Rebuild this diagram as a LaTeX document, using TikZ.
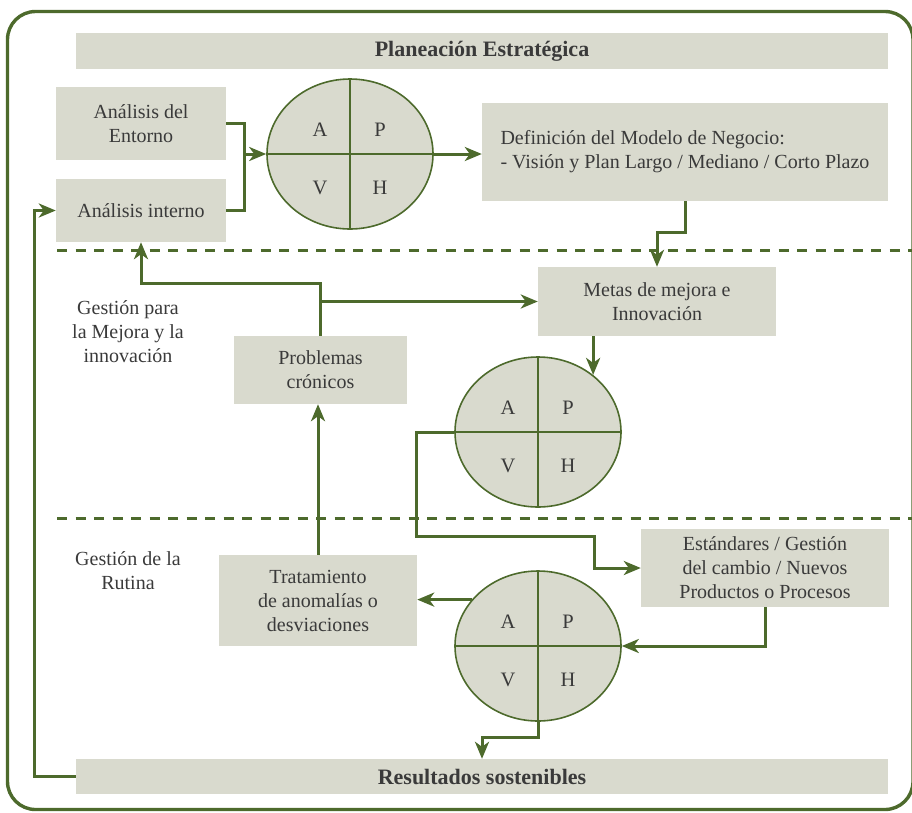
\documentclass[tikz,border=0pt]{standalone}
\usepackage{fontspec}
\setmainfont{Liberation Serif}
\usetikzlibrary{arrows.meta,shapes.geometric}
\definecolor{boxfill}{HTML}{D9DACE}
\definecolor{linegreen}{HTML}{4D6A2C}
\definecolor{txt}{HTML}{3A3A3A}

\begin{document}
\begin{tikzpicture}[x=1pt,y=-1pt,
  box/.style={fill=boxfill, text=txt, inner sep=0pt, align=center,
    font=\fontsize{20}{24}\selectfont},
  title/.style={box, font=\fontsize{22}{26}\selectfont\bfseries},
  cycle/.style={ellipse, draw=linegreen, line width=1.6pt, fill=boxfill,
    minimum width=166pt, minimum height=150pt, inner sep=0pt},
  quad/.style={draw=linegreen, line width=1.6pt},
  letter/.style={text=txt, inner sep=0pt, font=\fontsize{20.5}{24}\selectfont},
  flow/.style={draw=linegreen, line width=3pt},
  arr/.style={flow, -{Stealth[length=17pt,width=14pt,inset=5pt]}},
  sep/.style={draw=linegreen, line width=3pt, dash pattern=on 10pt off 8.5pt},
  lbl/.style={text=txt, align=center, inner sep=0pt,
    font=\fontsize{20}{24}\selectfont}
]
\useasboundingbox (0,0) rectangle (912,812);

% outer frame
\draw[linegreen, line width=3.4pt, rounded corners=28pt] (7.5,11.5) rectangle (913,809.5);

% band separators
\coordinate (s1a) at (57,250);  \coordinate (s1b) at (915,250);
\coordinate (s2a) at (57,518);  \coordinate (s2b) at (915,518);
\draw[sep] (s1a) -- (s1b);
\draw[sep] (s2a) -- (s2b);

% boxes
\node[title, minimum width=812pt, minimum height=36pt] (plan) at (482,51)
  {Planeación Estratégica};
\node[box, minimum width=170pt, minimum height=73pt] (entorno) at (141,123.5)
  {Análisis del\\Entorno};
\node[box, minimum width=170pt, minimum height=63pt] (interno) at (141,210.5)
  {Análisis interno};
\node[box, minimum width=406pt, minimum height=98pt, align=left] (def) at (685,152)
  {Definición del Modelo de Negocio:\\- Visión y Plan Largo / Mediano / Corto Plazo};
\node[box, minimum width=238pt, minimum height=69pt] (metas) at (657,301.5)
  {Metas de mejora e\\Innovación};
\node[box, minimum width=173pt, minimum height=68pt] (prob) at (320.5,370)
  {Problemas\\crónicos};
\node[box, minimum width=248pt, minimum height=78pt] (est) at (765,568)
  {Estándares / Gestión\\del cambio / Nuevos\\Productos o Procesos};
\node[box, minimum width=198pt, minimum height=91pt] (trat) at (318,600.5)
  {Tratamiento\\de anomalías o\\desviaciones};
\node[title, minimum width=812pt, minimum height=35pt] (res) at (482,776.5)
  {Resultados sostenibles};

% band labels
\node[lbl] (lblmejora) at (128,332) {Gestión para\\la Mejora y la\\innovación};
\node[lbl] (lblrutina) at (128,571) {Gestión de la\\Rutina};

% PHVA cycles
\foreach \n/\cx/\cy in {e1/350/154, e2/538/432, e3/538/646}{
  \node[cycle] (\n) at (\cx,\cy) {};
  \draw[quad] (\n.north) -- (\n.south);
  \draw[quad] (\n.west) -- (\n.east);
  \node[letter] (\n A) at (\cx-30,\cy-24) {A};
  \node[letter] (\n P) at (\cx+30,\cy-24) {P};
  \node[letter] (\n V) at (\cx-30,\cy+34) {V};
  \node[letter] (\n H) at (\cx+30,\cy+34) {H};
}

% strategic planning flow
\coordinate (j1) at (244,154);
\draw[flow] (entorno.east) -| (j1) |- (interno.east);
\draw[arr] (j1) -- (e1.west);
\draw[arr] (e1.east) -- (e1.east -| def.west);
\draw[arr] (def.south) -- ++(0,31) -| (metas.north);

% improvement flow
\draw[arr] (metas.south -| e2.46.8) -- (e2.46.8);
\draw[arr] (prob.north) -- ++(0,-52) -| (interno.south);
\draw[arr] (prob.north |- metas.west) -- (metas.west);
\draw[arr] (e2.west) -- ++(-38,0) |- (594,536.5) |- (est.west);

% routine flow
\draw[arr] (est.south) |- (e3.east);
\draw[arr] (e3.145.3) -- (e3.145.3 -| trat.east);
\draw[arr] (trat.north) -- (trat.north |- prob.south);
\draw[arr] (e3.south) -- ++(0,16) -| (res.north);

% feedback to internal analysis
\draw[arr] (res.west) -- ++(-41,0) |- (interno.west);
\end{tikzpicture}
\end{document}
